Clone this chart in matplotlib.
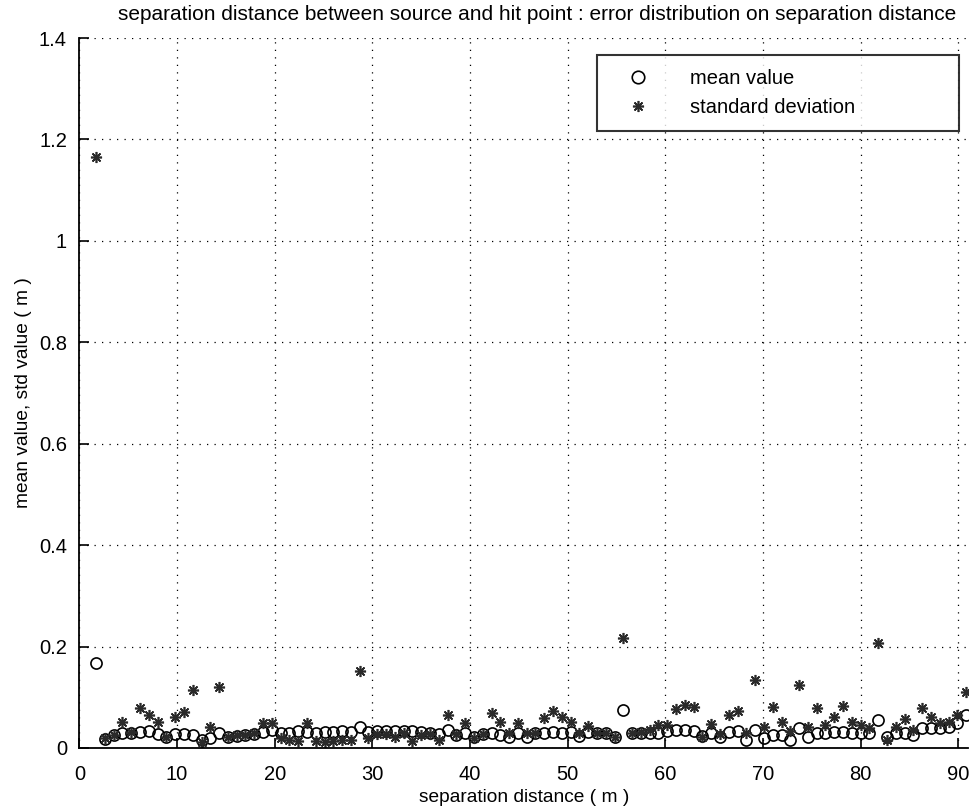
import numpy as np
import matplotlib
matplotlib.use("Agg")
import matplotlib.pyplot as plt
from matplotlib.lines import Line2D

plt.rcParams['font.family'] = ['Liberation Sans', 'DejaVu Sans']

# separation distance bins (m)
sep_dist = np.round(1.7 + 0.9 * np.arange(100), 2)

mean_err = [
    0.168, 0.018, 0.026, 0.029, 0.030, 0.032, 0.033, 0.027, 0.022, 0.027,
    0.027, 0.026, 0.016, 0.020, 0.030, 0.022, 0.023, 0.026, 0.028, 0.031,
    0.035, 0.030, 0.030, 0.033, 0.032, 0.030, 0.032, 0.032, 0.033, 0.032,
    0.042, 0.032, 0.033, 0.034, 0.034, 0.033, 0.034, 0.032, 0.030, 0.027,
    0.036, 0.026, 0.029, 0.022, 0.027, 0.030, 0.025, 0.022, 0.030, 0.022,
    0.029, 0.030, 0.032, 0.030, 0.032, 0.023, 0.032, 0.030, 0.030, 0.021,
    0.074, 0.030, 0.030, 0.030, 0.030, 0.034, 0.035, 0.035, 0.034, 0.024,
    0.030, 0.021, 0.032, 0.033, 0.016, 0.036, 0.020, 0.026, 0.026, 0.016,
    0.039, 0.022, 0.030, 0.030, 0.032, 0.032, 0.030, 0.030, 0.030, 0.055,
    0.022, 0.030, 0.030, 0.026, 0.039, 0.039, 0.039, 0.042, 0.049, 0.065,
]

std_err = [
    1.166, 0.020, 0.025, 0.052, 0.032, 0.079, 0.065, 0.052, 0.022, 0.061,
    0.071, 0.115, 0.012, 0.041, 0.120, 0.022, 0.026, 0.026, 0.030, 0.049,
    0.049, 0.020, 0.016, 0.014, 0.050, 0.014, 0.012, 0.014, 0.016, 0.016,
    0.152, 0.020, 0.028, 0.028, 0.022, 0.030, 0.014, 0.025, 0.028, 0.016,
    0.064, 0.028, 0.050, 0.020, 0.028, 0.069, 0.052, 0.030, 0.049, 0.030,
    0.030, 0.059, 0.072, 0.061, 0.051, 0.030, 0.044, 0.030, 0.030, 0.022,
    0.216, 0.030, 0.032, 0.035, 0.045, 0.045, 0.077, 0.085, 0.081, 0.022,
    0.047, 0.028, 0.065, 0.072, 0.030, 0.134, 0.041, 0.081, 0.051, 0.034,
    0.124, 0.041, 0.079, 0.045, 0.061, 0.083, 0.051, 0.045, 0.039, 0.207,
    0.016, 0.042, 0.058, 0.035, 0.079, 0.061, 0.049, 0.051, 0.065, 0.110,
]

# MATLAB-style '*' : eight-spoke asterisk
star = (8, 2, 0)

fig = plt.figure(figsize=(9.69, 8.09), dpi=100)
ax = fig.add_axes([0.082, 0.0755, 0.917, 0.8775])

ax.plot(sep_dist, mean_err, linestyle='none', marker='o', markersize=8,
        markerfacecolor='none', markeredgecolor='black', markeredgewidth=1.2)
ax.plot(sep_dist, std_err, linestyle='none', marker=star, markersize=8,
        markeredgecolor='#2a2a2a', markeredgewidth=1.2)

ax.set_xlim(0, 91)
ax.set_ylim(0, 1.4)
ax.set_xticks(np.arange(0, 91, 10))
ax.set_yticks(np.arange(0, 1.41, 0.2))
ax.set_yticklabels(['0', '0.2', '0.4', '0.6', '0.8', '1', '1.2', '1.4'])

ax.grid(True, color='black', linestyle=(0, (1, 5)), linewidth=0.9)
ax.spines['top'].set_visible(False)
ax.spines['right'].set_visible(False)
ax.spines['left'].set_linewidth(1.3)
ax.spines['bottom'].set_linewidth(1.3)
ax.tick_params(direction='in', length=7, width=1.2, labelsize=14.5)
ax.tick_params(axis='x', pad=12)
ax.tick_params(axis='y', pad=9)

ax.set_title('separation distance between source and hit point : '
             'error distribution on separation distance', fontsize=15,
             pad=13, x=0.515)
ax.set_xlabel('separation distance ( m )', fontsize=13.8, labelpad=4)
ax.set_ylabel('mean value, std value ( m )', fontsize=13.8, labelpad=5)

handles = [
    Line2D([], [], linestyle='none', marker='o', markersize=9,
           markerfacecolor='none', markeredgecolor='black', markeredgewidth=1.2),
    Line2D([], [], linestyle='none', marker=star, markersize=8,
           markeredgecolor='#2a2a2a', markeredgewidth=1.2),
]
leg = ax.legend(handles, ['mean value', 'standard deviation'],
                loc='upper left', bbox_to_anchor=(0.583, 0.976, 0.407, 0.0),
                mode='expand', fontsize=14.5, frameon=True, fancybox=False,
                edgecolor='black', borderpad=0.7, handletextpad=1.3,
                handlelength=2.6, labelspacing=0.5, borderaxespad=0)
leg.get_frame().set_linewidth(1.5)

fig.savefig('out.png', dpi=100)
